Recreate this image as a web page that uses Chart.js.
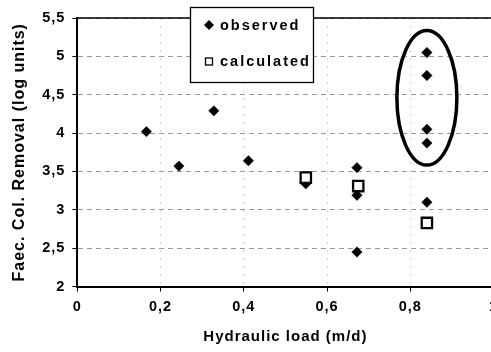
<!DOCTYPE html>
<html lang="en">
  <head>
    <script src="https://cdn.jsdelivr.net/npm/chart.js"></script>
    <style>
      body { margin: 0; overflow: hidden; background: #fff; }
    </style>
  </head>
  <body>
    <div style="width: 505px; height: 352px"><canvas id="chart"></canvas></div>
    <script type="text/javascript">
      const observedLoad = [0.166, 0.244, 0.328, 0.411, 0.549, 0.672, 0.672, 0.672, 0.84, 0.84, 0.84, 0.84, 0.84];
      const observedRemoval = [4.02, 3.57, 4.29, 3.64, 3.34, 3.55, 3.19, 2.45, 5.05, 4.75, 4.05, 3.87, 3.1];
      const calculatedLoad = [0.549, 0.675, 0.84];
      const calculatedRemoval = [3.42, 3.31, 2.83];
      const circled = [8, 9, 10, 11]; // observed points ringed by the ellipse
      const xTicks = [0, 0.2, 0.4, 0.6, 0.8, 1];
      const yTicks = [2, 2.5, 3, 3.5, 4, 4.5, 5, 5.5];

      const family = "'Liberation Sans', Arial, sans-serif";
      const comma = (v) => String(Math.round(v * 10) / 10).replace('.', ',');

      const extras = {
        id: 'extras',
        beforeLayout(chart) { chart.ctx.letterSpacing = '1px'; },
        beforeDraw(chart) { chart.ctx.letterSpacing = '1px'; },
        afterDatasetsDraw(chart) {
          const { ctx, chartArea, scales } = chart;
          ctx.save();
          // top frame line
          ctx.strokeStyle = '#000';
          ctx.lineWidth = 1.5;
          ctx.beginPath();
          ctx.moveTo(chartArea.left, chartArea.top);
          ctx.lineTo(chartArea.right, chartArea.top);
          ctx.stroke();

          // ellipse around the high removals
          const ys = circled.map((i) => scales.y.getPixelForValue(observedRemoval[i]));
          const cx = scales.x.getPixelForValue(observedLoad[circled[0]]);
          const top = Math.min(...ys), bot = Math.max(...ys);
          ctx.lineWidth = 3.5;
          ctx.beginPath();
          ctx.ellipse(cx, (top + bot) / 2, 30, (bot - top) / 2 + 22, 0, 0, 2 * Math.PI);
          ctx.stroke();

          // legend box
          ctx.fillStyle = '#fff';
          ctx.lineWidth = 1.3;
          ctx.fillRect(190.5, 7.5, 123, 75);
          ctx.strokeRect(190.5, 7.5, 123, 75);
          ctx.fillStyle = '#000';
          ctx.beginPath();
          ctx.moveTo(204, 25); ctx.lineTo(209, 20); ctx.lineTo(214, 25); ctx.lineTo(209, 30);
          ctx.closePath();
          ctx.fill();
          ctx.strokeRect(205.5, 58, 7, 7);
          ctx.letterSpacing = '2px';
          ctx.font = 'bold 14.5px ' + family;
          ctx.textBaseline = 'middle';
          ctx.fillText(chart.data.datasets[0].label, 220, 25.5);
          ctx.fillText(chart.data.datasets[1].label, 220, 62);
          ctx.restore();
        },
      };

      new Chart(document.getElementById('chart'), {
        type: 'scatter',
        plugins: [extras],
        data: {
          datasets: [
            {
              label: 'observed',
              data: observedLoad.map((x, i) => ({ x: x, y: observedRemoval[i] })),
              pointStyle: 'rectRot',
              radius: 5.2,
              backgroundColor: '#000',
              borderColor: '#000',
              borderWidth: 0.5,
              order: 1,
            },
            {
              label: 'calculated',
              data: calculatedLoad.map((x, i) => ({ x: x, y: calculatedRemoval[i] })),
              pointStyle: 'rect',
              radius: 7.3,
              backgroundColor: '#fff',
              borderColor: '#000',
              borderWidth: 2.3,
              order: 0,
            },
          ],
        },
        options: {
          responsive: true,
          maintainAspectRatio: false,
          animation: false,
          events: [],
          layout: { padding: { left: 10, top: 18, right: 4, bottom: 6 } },
          plugins: { legend: { display: false }, tooltip: { enabled: false } },
          scales: {
            x: {
              type: 'linear',
              min: 0,
              max: 1,
              afterBuildTicks: (s) => { s.ticks = xTicks.map((v) => ({ value: v })); },
              ticks: { callback: comma, color: '#000', padding: 7, font: { family: family, size: 14.5, weight: 'bold' } },
              grid: { color: '#d2d2d2', tickColor: '#000', tickLength: 5 },
              border: { color: '#000', width: 2, dash: [2, 6] },
              title: {
                display: true,
                text: 'Hydraulic load (m/d)',
                color: '#000',
                padding: { top: 5, bottom: 0 },
                font: { family: family, size: 15, weight: 'bold' },
              },
            },
            y: {
              min: 2,
              max: 5.5,
              afterBuildTicks: (s) => { s.ticks = yTicks.map((v) => ({ value: v })); },
              ticks: { callback: comma, color: '#000', padding: 7, font: { family: family, size: 14.5, weight: 'bold' } },
              grid: { color: '#999', tickColor: '#000', tickLength: 5 },
              border: { color: '#000', width: 2, dash: [5, 4] },
              title: {
                display: true,
                text: 'Faec. Col. Removal (log units)',
                color: '#000',
                padding: { top: 0, bottom: 6 },
                font: { family: family, size: 16, weight: 'bold' },
              },
            },
          },
        },
      });
    </script>
  </body>
</html>
